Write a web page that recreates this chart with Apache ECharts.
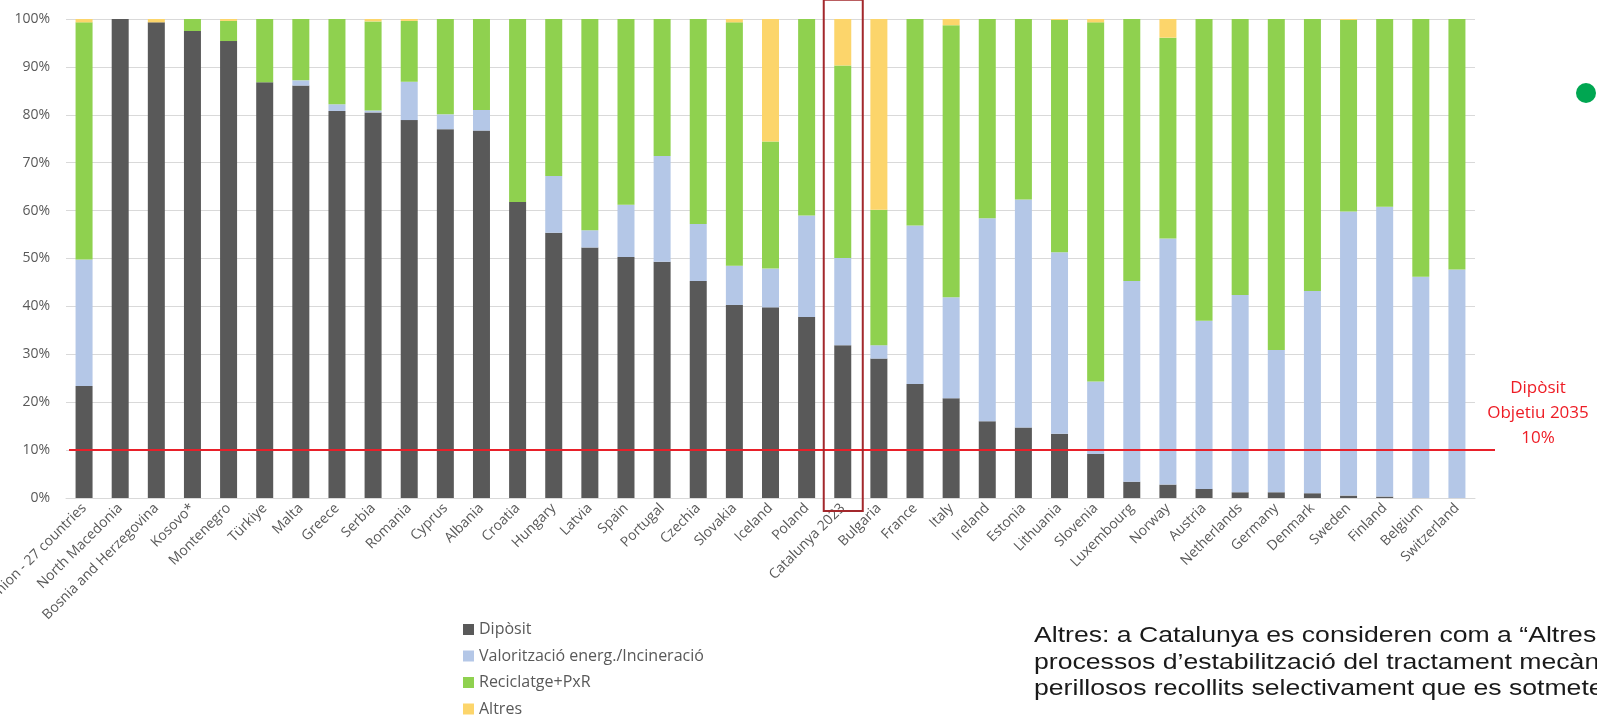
<!DOCTYPE html>
<html>
<head>
<meta charset="utf-8">
<script src="https://cdn.jsdelivr.net/npm/echarts@6/dist/echarts.min.js"></script>
<style>
html,body{margin:0;padding:0;background:#fff;}
#c{width:1597px;height:719px;}
</style>
</head>
<body>
<div id="c"></div>
<script>
const categories = [
  'European Union - 27 countries','North Macedonia','Bosnia and Herzegovina','Kosovo*','Montenegro',
  'Türkiye','Malta','Greece','Serbia','Romania','Cyprus','Albania','Croatia','Hungary','Latvia',
  'Spain','Portugal','Czechia','Slovakia','Iceland','Poland','Catalunya 2023','Bulgaria','France',
  'Italy','Ireland','Estonia','Lithuania','Slovenia','Luxembourg','Norway','Austria','Netherlands',
  'Germany','Denmark','Sweden','Finland','Belgium','Switzerland'
];
const seriesNames = ['Dipòsit','Valorització energ./Incineració','Reciclatge+PxR','Altres'];
const diposit = [23.4,100,99.3,97.5,95.4,86.8,86.1,80.8,80.5,78.9,77.0,76.7,61.8,55.4,52.3,50.3,49.3,45.3,40.3,39.8,37.8,31.9,29.1,23.8,20.8,16.0,14.7,13.4,9.2,3.4,2.8,1.9,1.2,1.2,1.0,0.5,0.3,0,0];
const valoritzacio = [26.4,0,0,0,0,0,1.1,1.4,0.4,8.0,3.1,4.3,0,11.8,3.6,10.9,22.1,11.9,8.2,8.1,21.2,18.2,2.8,33.1,21.1,42.4,47.6,37.9,15.1,41.9,51.4,35.1,41.2,29.7,42.2,59.3,60.5,46.2,47.7];
const reciclatge = [49.5,0,0,2.5,4.2,13.2,12.8,17.8,18.6,12.7,19.9,19.0,38.2,32.8,44.1,38.8,28.6,42.8,50.8,26.5,41.0,40.2,28.3,43.1,56.8,41.6,37.7,48.5,75.0,54.7,41.9,63.0,57.6,69.1,56.8,40.0,39.2,53.8,52.3];
const altres = [0.7,0,0.7,0,0.4,0,0,0,0.5,0.4,0,0,0,0,0,0,0,0,0.7,25.6,0,9.7,39.8,0,1.3,0,0,0.2,0.7,0,3.9,0,0,0,0,0.2,0,0,0];
const yTicks = [0,10,20,30,40,50,60,70,80,90,100];
const targetValue = 10;
const highlightCategory = 'Catalunya 2023';
const targetLabel = 'Dipòsit\nObjetiu 2035\n10%';
const noteText = 'Altres: a Catalunya es consideren com a “Altres” els\nprocessos d’estabilització del tractament mecànic biològic i els residus\nperillosos recollits selectivament que es sotmeten a tractament.';

const colors = ['#595959','#b4c7e7','#8fd14f','#fcd56b'];
const seriesData = [diposit, valoritzacio, reciclatge, altres];

const chart = echarts.init(document.getElementById('c'), null, {renderer:'canvas'});

const series = seriesNames.map((name, i) => {
  const s = {
    name: name,
    type: 'bar',
    stack: 'total',
    barWidth: 17,
    data: seriesData[i],
    itemStyle: {color: colors[i]},
    emphasis: {disabled: true}
  };
  if (i === 0) {
    s.markLine = {
      silent: true,
      symbol: ['none','none'],
      label: {show: false},
      lineStyle: {color: '#e8202a', width: 2, type: 'solid'},
      data: [[{yAxis: targetValue, x: 69}, {yAxis: targetValue, x: 1495}]]
    };
  }
  return s;
});

const option = {
  animation: false,
  backgroundColor: '#ffffff',
  grid: {left: 66, right: 122, top: 19, bottom: 221, containLabel: false, outerBoundsMode: 'none'},
  legend: {
    orient: 'vertical',
    left: 463,
    top: 621,
    padding: 0,
    icon: 'rect',
    itemWidth: 11,
    itemHeight: 11,
    itemGap: 9.5,
    selectedMode: false,
    data: seriesNames,
    textStyle: {fontFamily: 'Open Sans', fontSize: 16, color: '#595959', lineHeight: 17}
  },
  xAxis: {
    type: 'category',
    data: categories,
    axisTick: {show: false},
    axisLine: {lineStyle: {color: '#d9d9d9'}},
    axisLabel: {interval: 0, rotate: 45, fontFamily: 'Open Sans', fontSize: 14, color: '#595959', margin: 8, hideOverlap: false}
  },
  yAxis: {
    type: 'value',
    min: yTicks[0],
    max: yTicks[yTicks.length - 1],
    interval: 10,
    axisLine: {show: false},
    axisTick: {show: false},
    splitLine: {lineStyle: {color: '#d9d9d9', width: 1}},
    axisLabel: {formatter: '{value}%', fontFamily: 'Open Sans', fontSize: 14, color: '#595959', margin: 16}
  },
  series: series
};
chart.setOption(option);

// Highlight box around the Catalunya bar, positioned from the axes
const idx = categories.indexOf(highlightCategory);
const cx = chart.convertToPixel({xAxisIndex: 0}, categories[idx]);
const nx = chart.convertToPixel({xAxisIndex: 0}, categories[idx + 1]);
const band = nx - cx;
const boxW = band * 1.08;
const yTop = chart.convertToPixel({yAxisIndex: 0}, 104);
const yBot = chart.convertToPixel({yAxisIndex: 0}, -2.7);
const yTarget = chart.convertToPixel({yAxisIndex: 0}, targetValue);

chart.setOption({
  graphic: [
    {
      type: 'rect',
      silent: true,
      shape: {x: cx - boxW / 2 + 0.5, y: yTop, width: boxW, height: yBot - yTop},
      style: {fill: 'none', stroke: '#a3282c', lineWidth: 2},
      z: 10
    },
    {
      type: 'text',
      silent: true,
      x: 1538,
      y: yTarget - 74,
      style: {
        text: targetLabel,
        font: '17px "Open Sans"',
        fill: '#ee1c25',
        align: 'center',
        verticalAlign: 'top',
        lineHeight: 25
      }
    },
    {
      type: 'circle',
      silent: true,
      shape: {cx: 1586, cy: 93, r: 10},
      style: {fill: '#00a651'}
    },
    {
      type: 'text',
      silent: true,
      x: 1034,
      y: 623,
      scaleX: 1.21,
      style: {
        text: noteText,
        font: '22px "Liberation Sans"',
        fill: '#1a1a1a',
        align: 'left',
        verticalAlign: 'top',
        lineHeight: 26.5
      }
    }
  ]
});
</script>
</body>
</html>
